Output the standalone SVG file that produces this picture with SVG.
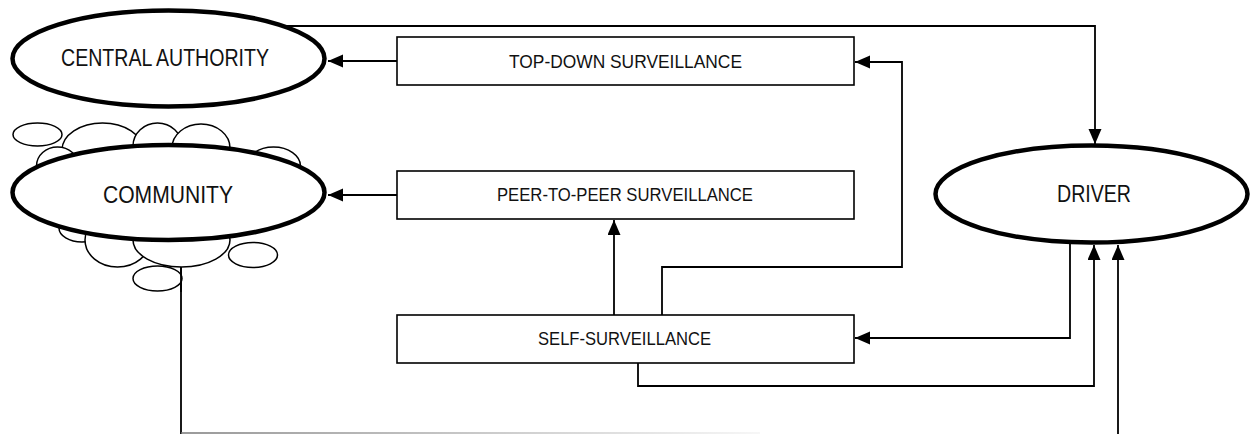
<svg xmlns="http://www.w3.org/2000/svg" width="1250" height="434" viewBox="0 0 1250 434">
<style>
.bg{fill:#fff}
.big{fill:#fff;stroke:#000;stroke-width:4.5}
.box{fill:#fff;stroke:#000;stroke-width:1.6}
.bub{fill:#fff;stroke:#000;stroke-width:1.5}
.con{fill:none;stroke:#000;stroke-width:1.8}
.arr{fill:none;stroke:#000;stroke-width:1.8;marker-end:url(#ah)}
text{font-family:"Liberation Sans Narrow","Liberation Sans",Arial,sans-serif;fill:#111;text-anchor:middle}
.t1{font-size:23px}
.t2{font-size:19px}
</style>
<defs>
<marker id="ah" markerUnits="userSpaceOnUse" markerWidth="16" markerHeight="14" refX="15" refY="6.5" orient="auto">
<path d="M0,0 L15,6.5 L0,13 z" fill="#000"/>
</marker>
<linearGradient id="fade" gradientUnits="userSpaceOnUse" x1="181" y1="0" x2="760" y2="0">
<stop offset="0" stop-color="#777"/>
<stop offset="1" stop-color="#f4f4f4"/>
</linearGradient>
</defs>
<rect class="bg" x="0" y="0" width="1250" height="434"/>
<g id="connectors">
<path class="arr" d="M397,61 H328"/>
<path class="arr" d="M397,195 H328"/>
<path class="arr" d="M260,26 H1095 V144"/>
<path class="arr" d="M662,315 V267 H902 V62 H855"/>
<path class="arr" d="M614,315 V220"/>
<path class="arr" d="M1070,240 V338 H855"/>
<path class="arr" d="M638,363 V386 H1094 V245"/>
<path class="con" d="M181,250 V434"/>
<line x1="181" y1="433" x2="760" y2="433" stroke="url(#fade)" stroke-width="1.5"/>
<path class="arr" d="M1118,434 V245"/>
</g>
<g id="central-authority">
<ellipse class="big" cx="168.5" cy="58.5" rx="156" ry="48"/>
<text class="t1" x="165" y="66" textLength="208" lengthAdjust="spacingAndGlyphs">CENTRAL AUTHORITY</text>
</g>
<g id="community">
<ellipse class="bub" cx="37.5" cy="134.5" rx="24.5" ry="11.5"/>
<ellipse class="bub" cx="102.5" cy="150" rx="40.5" ry="27"/>
<ellipse class="bub" cx="157.5" cy="146" rx="24.5" ry="23"/>
<ellipse class="bub" cx="201" cy="148" rx="29" ry="24"/>
<ellipse class="bub" cx="273.5" cy="166" rx="27" ry="19"/>
<ellipse class="bub" cx="57.5" cy="166" rx="21" ry="19"/>
<ellipse class="bub" cx="82" cy="228" rx="23" ry="14"/>
<ellipse class="bub" cx="117.5" cy="240" rx="32.5" ry="27"/>
<ellipse class="bub" cx="181.5" cy="240" rx="48.5" ry="27"/>
<ellipse class="bub" cx="253" cy="255" rx="24.5" ry="12.5"/>
<ellipse class="bub" cx="157.5" cy="278.5" rx="24.5" ry="12.5"/>
<line x1="181" y1="267" x2="181" y2="292" stroke="#000" stroke-width="1.8"/>
<ellipse class="big" cx="168.5" cy="192.5" rx="156" ry="47.5"/>
<text class="t1" x="168" y="203" textLength="130" lengthAdjust="spacingAndGlyphs">COMMUNITY</text>
</g>
<g id="driver">
<ellipse class="big" cx="1091.5" cy="194" rx="156" ry="48.5"/>
<text class="t1" x="1094" y="202" textLength="74" lengthAdjust="spacingAndGlyphs">DRIVER</text>
</g>
<g id="top-down">
<rect class="box" x="397" y="37" width="457" height="48"/>
<text class="t2" x="625.5" y="68" textLength="233" lengthAdjust="spacingAndGlyphs">TOP-DOWN SURVEILLANCE</text>
</g>
<g id="peer-to-peer">
<rect class="box" x="397" y="171" width="457" height="48"/>
<text class="t2" x="625" y="201" textLength="256" lengthAdjust="spacingAndGlyphs">PEER-TO-PEER SURVEILLANCE</text>
</g>
<g id="self">
<rect class="box" x="397" y="315" width="457" height="48"/>
<text class="t2" x="624.5" y="345" textLength="173" lengthAdjust="spacingAndGlyphs">SELF-SURVEILLANCE</text>
</g>
</svg>
